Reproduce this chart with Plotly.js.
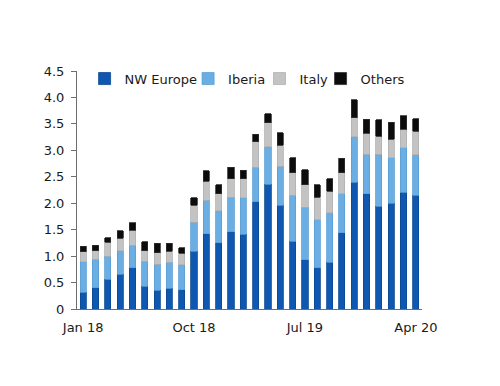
<!DOCTYPE html>
<html>
<head>
<meta charset="utf-8">
<script src="https://cdn.plot.ly/plotly-3.0.1.min.js"></script>
<style>html,body{margin:0;padding:0;background:#fff;}#chart{width:500px;height:386px;}</style>
</head>
<body>
<div id="chart"></div>
<script>
const categories = ["Jan 18","Feb 18","Mar 18","Apr 18","May 18","Jun 18","Jul 18","Aug 18","Sep 18","Oct 18","Nov 18","Dec 18",
  "Jan 19","Feb 19","Mar 19","Apr 19","May 19","Jun 19","Jul 19","Aug 19","Sep 19","Oct 19","Nov 19","Dec 19",
  "Jan 20","Feb 20","Mar 20","Apr 20"];
const nwEurope = [0.32,0.40,0.56,0.66,0.78,0.43,0.35,0.39,0.36,1.09,1.42,1.25,1.46,1.41,2.03,2.36,1.96,1.28,0.93,0.78,0.88,1.44,2.40,2.18,1.94,2.00,2.21,2.15];
const iberia   = [0.57,0.54,0.44,0.44,0.43,0.47,0.50,0.49,0.48,0.55,0.64,0.61,0.65,0.69,0.65,0.71,0.74,0.87,0.99,0.91,0.94,0.74,0.86,0.75,0.99,0.86,0.84,0.77];
const italy    = [0.19,0.16,0.26,0.24,0.28,0.20,0.21,0.21,0.21,0.32,0.36,0.32,0.35,0.36,0.48,0.45,0.40,0.43,0.43,0.42,0.41,0.40,0.36,0.39,0.34,0.35,0.35,0.44];
const others   = [0.11,0.11,0.09,0.14,0.14,0.17,0.18,0.15,0.11,0.14,0.19,0.17,0.22,0.16,0.14,0.17,0.23,0.28,0.28,0.24,0.23,0.27,0.34,0.27,0.31,0.32,0.25,0.24];
const seriesNames = ["NW Europe","Iberia","Italy","Others"];
const xTickLabels = ["Jan 18","Oct 18","Jul 19","Apr 20"];
const yTickVals = [0,0.5,1,1.5,2,2.5,3,3.5,4,4.5];
const yTickText = ["0","0.5","1.0","1.5","2.0","2.5","3.0","3.5","4.0","4.5"];

const FONT = "DejaVu Sans, Verdana, sans-serif";
const fills = ["#0f58b2","#6aaee4","#c3c3c3","#0c0c0c"];
const edges = ["#0a4890","#5a9ed4","#b0b0b0","#303030"];
const values = [nwEurope, iberia, italy, others];
const legendIds = ["legend","legend2","legend3","legend4"];
const legendX = [0.022, 0.322, 0.529, 0.706];

const traces = values.map((y, i) => ({
  type: "bar", name: seriesNames[i], x: categories, y: y, legend: legendIds[i],
  marker: {color: fills[i], line: {color: edges[i], width: 0.8}}, hoverinfo: "x+y+name"
}));
// boundary positions (category index) for the tick marks: left edge of each labelled month
const tickBoundaries = xTickLabels.map(l => categories.indexOf(l) - 0.5);

const layout = {
  width: 500, height: 386,
  margin: {l: 77, r: 78, t: 71, b: 77},
  paper_bgcolor: "#fff", plot_bgcolor: "#fff",
  barmode: "stack", bargap: 0.5,
  font: {family: FONT, size: 13, color: "#1a1a1a"},
  showlegend: true,
  xaxis: {type: "category", range: [-0.5, categories.length - 0.5], tickmode: "array", tickvals: xTickLabels,
    ticks: "", showline: true, linecolor: "#6e6e6e", linewidth: 1, showgrid: false, zeroline: false,
    ticklabelstandoff: 6,
    tickfont: {family: FONT, size: 13, color: "#1a1a1a"}, fixedrange: true},
  xaxis2: {overlaying: "x", anchor: "y", type: "linear", range: [-0.5, categories.length - 0.5],
    tickmode: "array", tickvals: tickBoundaries, ticks: "outside", ticklen: 5, tickcolor: "#6e6e6e",
    showticklabels: false, showgrid: false, zeroline: false, showline: false, side: "bottom"},
  yaxis: {range: [0, 4.5], tickmode: "array", tickvals: yTickVals, ticktext: yTickText,
    ticks: "outside", ticklen: 5, tickcolor: "#6e6e6e", showline: true, linecolor: "#6e6e6e", linewidth: 1,
    showgrid: false, zeroline: false, ticklabelstandoff: 4,
    tickfont: {family: FONT, size: 13, color: "#1a1a1a"}, fixedrange: true}
};
legendIds.forEach((id, i) => {
  layout[id] = {orientation: "h", x: legendX[i], xanchor: "left", y: 0.968, yanchor: "middle",
    font: {family: FONT, size: 13, color: "#1a1a1a"}, bgcolor: "rgba(0,0,0,0)"};
});
Plotly.newPlot("chart", traces, layout, {displayModeBar: false, staticPlot: true});
</script>
</body>
</html>
